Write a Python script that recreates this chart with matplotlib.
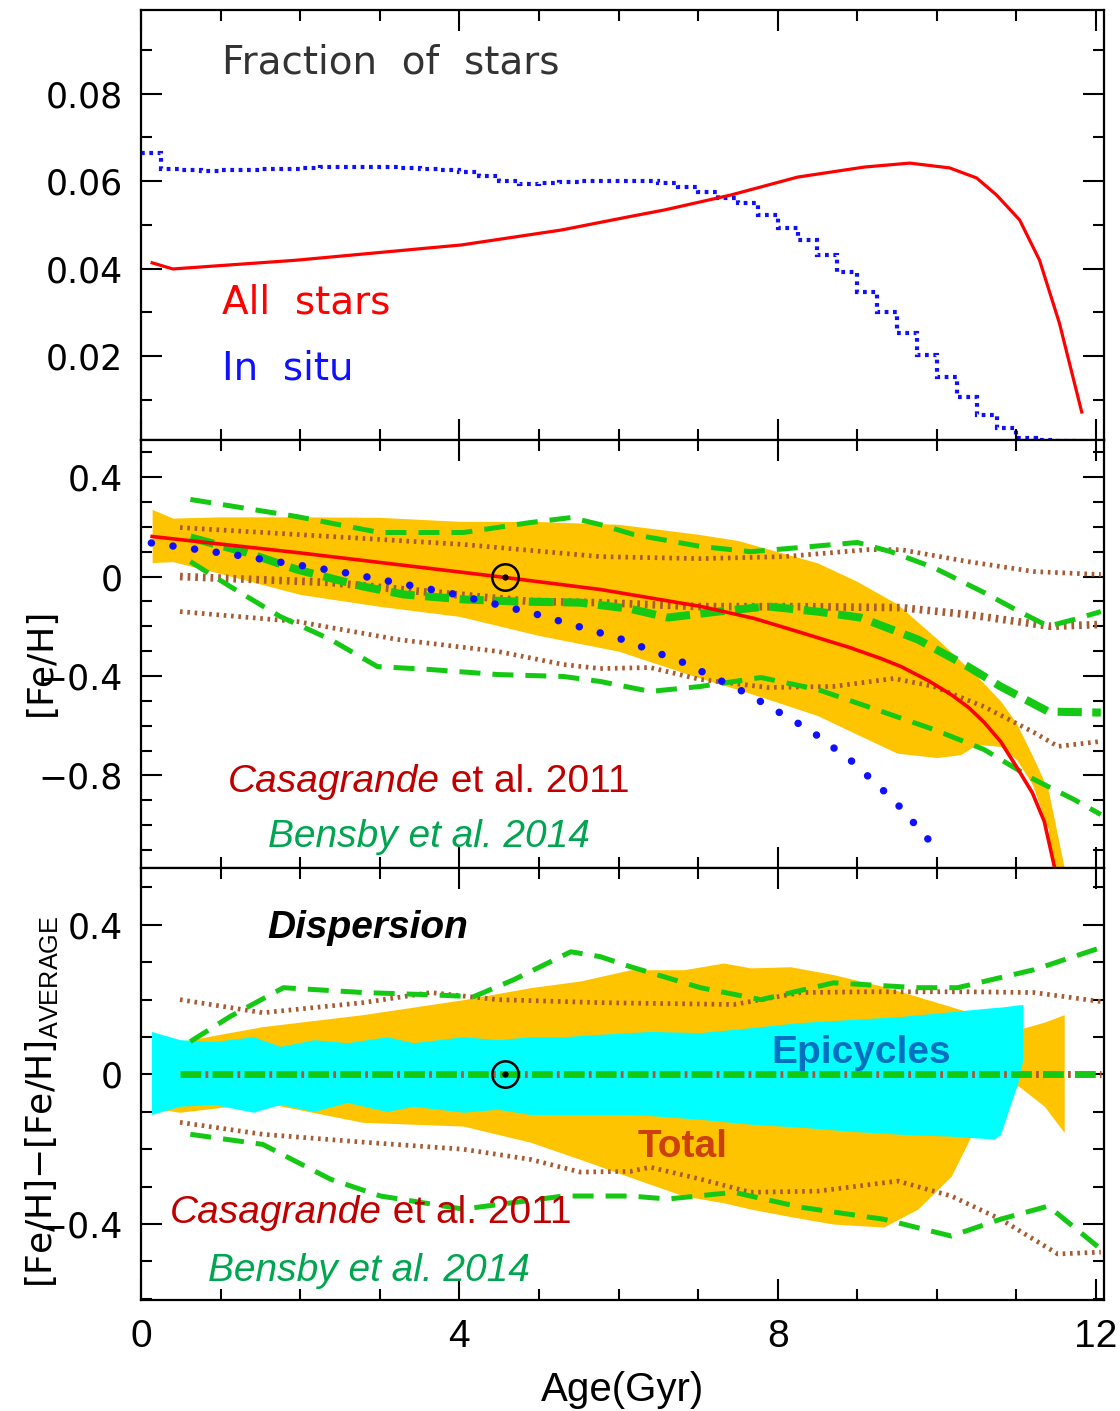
import numpy as np
import matplotlib
matplotlib.use("Agg")
import matplotlib.pyplot as plt
from matplotlib import font_manager
from matplotlib.ticker import MultipleLocator

# ---------------- data ----------------
# fraction of stars vs age
all_age = [0.14, 0.40, 1.95, 4.03, 5.28, 6.12, 6.58, 7.41, 8.25, 9.09, 9.66, 10.16,
           10.50, 10.75, 11.04, 11.29, 11.54, 11.82]
all_frac = [0.0413, 0.0399, 0.0419, 0.0454, 0.0488, 0.0518, 0.0534, 0.0568, 0.0609,
            0.0632, 0.0641, 0.0630, 0.0607, 0.0568, 0.0511, 0.0419, 0.0275, 0.0072]

insitu_edges = np.arange(0, 11.76, 0.25)
insitu_frac = [0.0664, 0.0628, 0.0625, 0.0624, 0.0625, 0.0626, 0.0627, 0.0628, 0.0630, 0.0631,
               0.0632, 0.0632, 0.0631, 0.0630, 0.0628, 0.0626, 0.0620, 0.0612, 0.0600, 0.0593,
               0.0596, 0.0598, 0.0599, 0.0600, 0.0600, 0.0599, 0.0595, 0.0586, 0.0575, 0.0562,
               0.0549, 0.0522, 0.0492, 0.0465, 0.0431, 0.0392, 0.0346, 0.0301, 0.0253, 0.0202,
               0.0152, 0.0106, 0.0065, 0.0035, 0.0013, 0.0008, 0.0005]

# [Fe/H] vs age: model spread, mean, in-situ mean
band_age = [0.14, 0.40, 1.0, 2.0, 3.0, 4.0, 5.0, 6.0, 7.0, 7.5, 8.0, 8.5, 9.0, 9.5,
            10.0, 10.3, 10.5, 10.8, 11.0, 11.2, 11.4, 11.6]
band_hi = [0.27, 0.235, 0.24, 0.24, 0.238, 0.222, 0.221, 0.21, 0.17, 0.145, 0.10, 0.055,
           -0.02, -0.11, -0.25, -0.34, -0.40, -0.50, -0.59, -0.72, -0.86, -1.17]
band_lo = [0.056, 0.06, 0.012, -0.072, -0.12, -0.16, -0.237, -0.30, -0.406, -0.454, -0.506,
           -0.559, -0.635, -0.71, -0.728, -0.716, -0.675, -0.683, -0.736, -0.836, -1.017, -1.6]

mean_age = [0.14, 2.0, 4.48, 5.77, 7.03, 7.7, 8.29, 8.9, 9.3, 9.55, 9.9, 10.18, 10.4, 10.59,
            10.8, 11.02, 11.2, 11.35, 11.5]
mean_feh = [0.161, 0.095, 0.0, -0.052, -0.12, -0.168, -0.225, -0.285, -0.33, -0.362, -0.42,
            -0.475, -0.527, -0.585, -0.663, -0.775, -0.87, -0.985, -1.2]

insitu_age = [0.13, 1.2, 2.54, 3.87, 4.94, 6.01, 6.80, 7.60, 8.41, 8.94, 9.47, 10.01]
insitu_feh = [0.135, 0.086, 0.017, -0.066, -0.149, -0.249, -0.344, -0.468, -0.619, -0.745,
              -0.903, -1.10]

# Bensby et al. 2014 (upper, mean, lower)
ben_hi_age = [0.62, 1.96, 3.0, 4.05, 4.89, 5.4, 5.77, 6.19, 7.03, 7.66, 8.29, 9.0, 9.42,
              9.96, 10.59, 11.06, 11.4, 11.72, 12.06]
ben_hi = [0.31, 0.241, 0.177, 0.177, 0.217, 0.237, 0.209, 0.169, 0.121, 0.10, 0.117, 0.137,
          0.10, 0.036, -0.064, -0.145, -0.20, -0.173, -0.141]
ben_mid_age = [0.62, 1.33, 1.96, 2.79, 3.3, 4.05, 4.68, 5.52, 6.15, 6.62, 7.25, 7.87, 8.5,
               9.04, 9.76, 10.39, 10.8, 11.4, 12.06]
ben_mid = [0.157, 0.096, 0.028, -0.04, -0.072, -0.092, -0.10, -0.105, -0.13, -0.165, -0.141,
           -0.12, -0.141, -0.165, -0.253, -0.362, -0.442, -0.543, -0.547]
ben_lo_age = [0.62, 1.12, 1.75, 2.38, 2.97, 3.64, 4.48, 5.31, 5.77, 6.4, 7.03, 7.79, 8.5,
              9.13, 9.96, 10.59, 11.22, 11.72, 12.06]
ben_lo = [0.06, -0.04, -0.161, -0.253, -0.362, -0.374, -0.394, -0.402, -0.422, -0.462, -0.442,
          -0.406, -0.454, -0.523, -0.615, -0.695, -0.816, -0.896, -0.957]

# Casagrande et al. 2011 (upper, mean, lower)
cas_hi_age = [0.49, 2.38, 4.05, 5.77, 7.03, 8.08, 9.13, 9.55, 10.39, 11.22, 12.06]
cas_hi = [0.197, 0.161, 0.129, 0.080, 0.072, 0.08, 0.108, 0.108, 0.06, 0.02, 0.008]
cas_mid_age = [0.49, 2.38, 3.64, 4.89, 5.77, 7.03, 8.29, 9.55, 10.39, 11.43, 12.06]
cas_mid = [0.0, -0.024, -0.064, -0.10, -0.105, -0.121, -0.121, -0.125, -0.153, -0.20, -0.193]
cas_lo_age = [0.49, 1.96, 3.22, 4.48, 5.31, 5.77, 6.4, 7.03, 7.87, 8.7, 9.46, 9.96, 10.59,
              11.22, 11.52, 12.06]
cas_lo = [-0.141, -0.181, -0.253, -0.301, -0.354, -0.370, -0.366, -0.414, -0.446, -0.442,
          -0.41, -0.442, -0.523, -0.627, -0.683, -0.663]

# dispersion around the mean
disp_age = [0.14, 0.49, 1.53, 2.79, 4.05, 4.89, 5.52, 6.15, 6.82, 7.32, 7.66, 8.16, 8.7,
            9.33, 9.76, 10.18, 10.43, 10.8, 11.02, 11.35, 11.6]
disp_hi = [0.08, 0.088, 0.128, 0.16, 0.20, 0.232, 0.25, 0.28, 0.28, 0.298, 0.285, 0.288,
           0.267, 0.235, 0.208, 0.181, 0.165, 0.14, 0.12, 0.14, 0.16]
disp_lo = [-0.09, -0.101, -0.075, -0.128, -0.138, -0.181, -0.227, -0.275, -0.325, -0.343,
           -0.36, -0.38, -0.40, -0.408, -0.36, -0.272, -0.165, -0.09, -0.03, -0.085, -0.155]

epi_age = [0.13, 0.49, 0.91, 1.41, 1.75, 2.17, 2.59, 3.09, 3.42, 4.05, 4.48, 4.89, 5.31,
           5.74, 6.15, 6.40, 7.03, 7.66, 8.29, 8.92, 9.55, 10.18, 10.72, 10.8, 11.02, 11.08]
epi_hi = [0.115, 0.093, 0.088, 0.101, 0.075, 0.093, 0.085, 0.101, 0.085, 0.101, 0.093, 0.101,
          0.101, 0.107, 0.112, 0.115, 0.112, 0.125, 0.139, 0.147, 0.155, 0.168, 0.179, 0.18,
          0.186, 0.187]
epi_lo = [-0.107, -0.085, -0.08, -0.101, -0.08, -0.099, -0.075, -0.099, -0.085, -0.101, -0.093,
          -0.107, -0.107, -0.107, -0.107, -0.11, -0.12, -0.133, -0.141, -0.152, -0.16, -0.165,
          -0.173, -0.16, -0.02, 0.04]

dben_hi_age = [0.62, 1.12, 1.79, 2.79, 3.64, 4.18, 4.68, 5.40, 5.77, 6.15, 7.03, 7.79, 8.7,
               9.76, 10.26, 11.22, 12.06]
dben_hi = [0.088, 0.155, 0.232, 0.219, 0.213, 0.208, 0.253, 0.328, 0.315, 0.288, 0.232, 0.2,
           0.245, 0.232, 0.232, 0.28, 0.339]
dben_lo_age = [0.62, 1.53, 2.38, 3.01, 4.05, 5.31, 6.15, 6.62, 7.45, 8.29, 9.33, 10.18, 10.8,
               11.4, 12.06]
dben_lo = [-0.16, -0.187, -0.28, -0.325, -0.36, -0.325, -0.325, -0.333, -0.315, -0.355, -0.387,
           -0.432, -0.387, -0.352, -0.467]
dcas_hi_age = [0.49, 1.53, 2.79, 3.64, 4.48, 5.77, 7.45, 8.29, 9.13, 10.39, 11.22, 12.06]
dcas_hi = [0.2, 0.165, 0.192, 0.219, 0.2, 0.192, 0.187, 0.219, 0.221, 0.221, 0.219, 0.195]
dcas_lo_age = [0.49, 1.53, 2.79, 4.05, 4.89, 5.52, 6.15, 6.4, 7.03, 7.66, 8.5, 9.51, 10.18,
               10.8, 11.52, 12.06]
dcas_lo = [-0.128, -0.16, -0.181, -0.2, -0.227, -0.261, -0.259, -0.248, -0.28, -0.315, -0.312,
           -0.285, -0.325, -0.387, -0.48, -0.475]
zero_age = [0.49, 12.06]
zero_val = [0.0, 0.0]

sun_age = 4.57

# ---------------- style ----------------
plt.rcParams['font.family'] = ['DejaVu Sans']
names = {f.name for f in font_manager.fontManager.ttflist}
if 'Liberation Sans Narrow' in names:
    narrow, nsize = 'Liberation Sans Narrow', 34
else:
    narrow, nsize = 'Liberation Sans', 28
plt.rcParams['mathtext.fontset'] = 'custom'
plt.rcParams['mathtext.rm'] = narrow

ORANGE = '#ffc400'
CYAN = '#00ffff'
GREEN = '#14c814'
BROWN = '#a85a32'
RED = '#ff0000'
BLUE = '#1010ff'

fig = plt.figure(figsize=(11.2, 14.11), dpi=100)
L, W = 141 / 1120, 963 / 1120
ax1 = fig.add_axes([L, 1 - 440 / 1411, W, 430 / 1411])
ax2 = fig.add_axes([L, 1 - 868 / 1411, W, 428 / 1411])
ax3 = fig.add_axes([L, 1 - 1300 / 1411, W, 432 / 1411])

for ax in (ax1, ax2, ax3):
    ax.set_xlim(0, 12.1)
    ax.set_xticks([0, 4, 8, 12])
    ax.xaxis.set_minor_locator(MultipleLocator(1))
    ax.tick_params(which='both', direction='in', top=True, right=True, width=1.5,
                   labelsize=25, pad=13)
    ax.tick_params(which='major', length=15)
    ax.tick_params(which='minor', length=8)
    for s in ax.spines.values():
        s.set_linewidth(1.6)

# ---------- top: fraction of stars ----------
ax1.plot(all_age, all_frac, color=RED, lw=2.3)
ax1.stairs(insitu_frac, insitu_edges, baseline=None, color=BLUE, lw=3.0,
           linestyle=(0, (0.9, 1.1)))
ax1.set_ylim(0.0008, 0.0991)
ax1.set_yticks([0.02, 0.04, 0.06, 0.08], ['0.02', '0.04', '0.06', '0.08'])
ax1.yaxis.set_minor_locator(MultipleLocator(0.01))
ax1.tick_params(labelbottom=False)
ax1.text(0.084, 0.853, 'Fraction  of  stars', transform=ax1.transAxes, fontsize=28,
         color='#333333')
ax1.text(0.084, 0.295, 'All  stars', transform=ax1.transAxes, fontsize=28, color=RED)
ax1.text(0.084, 0.140, 'In  situ', transform=ax1.transAxes, fontsize=28, color=BLUE)

# ---------- middle: [Fe/H] vs age ----------
ax2.fill_between(band_age, band_lo, band_hi, color=ORANGE, lw=0, zorder=1)
thin_dot = dict(color=BROWN, lw=3.4, linestyle=(0, (0.55, 1.0)), zorder=2)
ax2.plot(cas_hi_age, cas_hi, **thin_dot)
ax2.plot(cas_lo_age, cas_lo, **thin_dot)
ax2.plot(cas_mid_age, cas_mid, color=BROWN, lw=5.5, linestyle=(0, (0.35, 0.65)), zorder=2)
thin_dash = dict(color=GREEN, lw=3.6, linestyle=(0, (4.2, 2.4)), zorder=3)
ax2.plot(ben_hi_age, ben_hi, **thin_dash)
ax2.plot(ben_lo_age, ben_lo, **thin_dash)
ax2.plot(ben_mid_age, ben_mid, color=GREEN, lw=5.8, linestyle=(0, (3.0, 1.3)), zorder=3)
ax2.plot(mean_age, mean_feh, color=RED, lw=2.6, zorder=4)
ax2.plot(insitu_age, insitu_feh, color=BLUE, lw=5.4, linestyle=(0, (0.01, 2.9)),
         dash_capstyle='round', zorder=5)
ax2.plot([sun_age], [0], marker='o', ms=19, mfc='none', mec='black', mew=1.8, zorder=6)
ax2.plot([sun_age], [0], marker='o', ms=3.5, color='black', zorder=6)
ax2.set_ylim(-1.172, 0.549)
ax2.set_yticks([-0.8, -0.4, 0, 0.4], ['\u22120.8', '\u22120.4', '0', '0.4'])
ax2.yaxis.set_minor_locator(MultipleLocator(0.1))
ax2.tick_params(labelbottom=False)
ax2.text(-0.104, 0.481, '[Fe/H]', transform=ax2.transAxes, rotation=90, fontsize=26,
         ha='center', va='center')

t = ax2.text(0.090, 0.159, 'Casagrande', transform=ax2.transAxes, family=narrow,
             style='italic', fontsize=nsize, color='#c00000', va='bottom', zorder=7)
ax2.annotate(' et al. 2011', xy=(1, 0), xycoords=t, family=narrow, fontsize=nsize,
             color='#c00000', va='bottom', ha='left', zorder=7)
ax2.text(0.132, 0.030, 'Bensby et al. 2014', transform=ax2.transAxes, family=narrow,
         style='italic', fontsize=nsize, color='#00a550', va='bottom', zorder=7)

# ---------- bottom: dispersion ----------
ax3.fill_between(disp_age, disp_lo, disp_hi, color=ORANGE, lw=0, zorder=1)
ax3.fill_between(epi_age, epi_lo, epi_hi, color=CYAN, lw=0, zorder=2)
ax3.plot(dcas_hi_age, dcas_hi, **thin_dot)
ax3.plot(dcas_lo_age, dcas_lo, **thin_dot)
ax3.plot(dben_hi_age, dben_hi, **thin_dash)
ax3.plot(dben_lo_age, dben_lo, **thin_dash)
ax3.plot(zero_age, zero_val, color=GREEN, lw=5.0, linestyle=(0, (3.0, 1.6)), zorder=3)
ax3.plot(zero_age, zero_val, color=BROWN, lw=5.0, linestyle=(1.0, (0.4, 4.2)), zorder=3)
ax3.plot([sun_age], [0], marker='o', ms=19, mfc='none', mec='black', mew=1.8, zorder=6)
ax3.plot([sun_age], [0], marker='o', ms=3.5, color='black', zorder=6)
ax3.set_ylim(-0.603, 0.552)
ax3.set_yticks([-0.4, 0, 0.4], ['\u22120.4', '0', '0.4'])
ax3.yaxis.set_minor_locator(MultipleLocator(0.1))
ax3.set_xticks([0, 4, 8, 12], ['0', '4', '8', '12'])
ax3.tick_params(axis='x', labelsize=28, pad=14, labelfontfamily=narrow)
ax3.set_xlabel('Age(Gyr)', fontsize=29, family=narrow, labelpad=11)
ax3.text(-0.103, 0.458, '[Fe/H]\u2212[Fe/H]$_{\\rm AVERAGE}$', transform=ax3.transAxes,
         rotation=90, fontsize=26, ha='center', va='center')

ax3.text(0.131, 0.838, 'Dispersion', transform=ax3.transAxes, family=narrow, style='italic',
         weight='bold', fontsize=nsize, color='black', va='baseline', zorder=7)
ax3.text(0.655, 0.549, 'Epicycles', transform=ax3.transAxes, family=narrow, weight='bold',
         fontsize=nsize, color='#0070c0', va='baseline', zorder=7)
ax3.text(0.516, 0.331, 'Total', transform=ax3.transAxes, family=narrow, weight='bold',
         fontsize=nsize, color='#cc4010', va='baseline', zorder=7)
t = ax3.text(0.030, 0.160, 'Casagrande', transform=ax3.transAxes, family=narrow,
             style='italic', fontsize=nsize, color='#c00000', va='bottom', zorder=7)
ax3.annotate(' et al. 2011', xy=(1, 0), xycoords=t, family=narrow, fontsize=nsize,
             color='#c00000', va='bottom', ha='left', zorder=7)
ax3.text(0.070, 0.025, 'Bensby et al. 2014', transform=ax3.transAxes, family=narrow,
         style='italic', fontsize=nsize, color='#00a550', va='bottom', zorder=7)

fig.savefig('out.png', dpi=100)
